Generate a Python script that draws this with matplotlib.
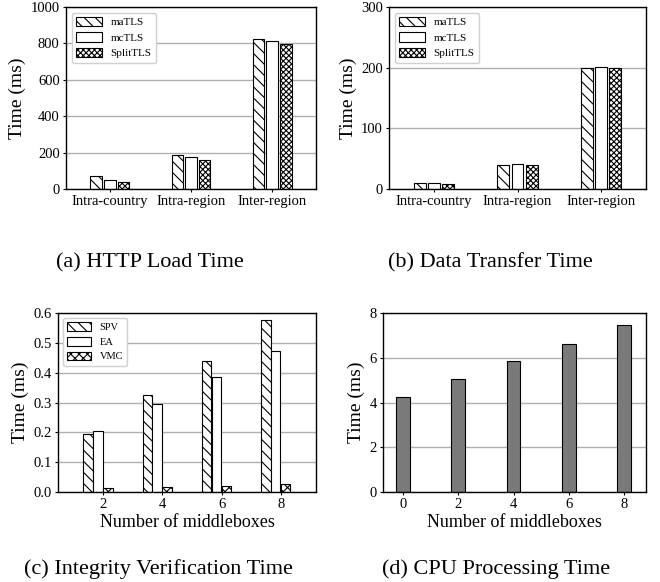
import numpy as np
import matplotlib as mpl
mpl.use('Agg')
import matplotlib.pyplot as plt

plt.rcParams['font.family'] = ['Liberation Serif', 'DejaVu Serif']
plt.rcParams['hatch.linewidth'] = 0.8

# data
regions = ['Intra-country', 'Intra-region', 'Inter-region']
load_matls = [70, 185, 822]
load_mctls = [48, 175, 812]
load_split = [38, 160, 797]

xfer_matls = [10, 40, 200]
xfer_mctls = [10, 41, 201]
xfer_split = [9, 40, 200]

mbox = [2, 4, 6, 8]
spv = [0.195, 0.325, 0.44, 0.575]
ea = [0.205, 0.295, 0.387, 0.472]
vmc = [0.013, 0.016, 0.021, 0.027]

cpu_mbox = [0, 2, 4, 6, 8]
cpu_time = [4.25, 5.05, 5.87, 6.6, 7.45]

fig = plt.figure(figsize=(6.6, 5.82), dpi=100)
W, H = 660.0, 582.0


def add_ax(l, t, r, b):
    return fig.add_axes([l / W, 1 - b / H, (r - l) / W, (b - t) / H])


def style(ax):
    ax.set_axisbelow(True)
    ax.yaxis.grid(True, color='#b0b0b0', lw=1)
    ax.tick_params(labelsize=10.5, length=2.5, width=0.8, pad=2)
    for s in ax.spines.values():
        s.set_linewidth(1.0)
    ax.set_ylabel('Time (ms)', fontsize=14, labelpad=3)


def grouped(ax, a, b, c, ylim, step, labels):
    x = np.arange(len(regions))
    w = 0.14
    d = 0.17
    ax.bar(x - d, a, w, color='white', edgecolor='black', hatch='\\\\\\', lw=0.8, label=labels[0])
    ax.bar(x, b, w, color='white', edgecolor='black', lw=0.8, label=labels[1])
    ax.bar(x + d, c, w, color='white', edgecolor='black', hatch='xxxxxx', lw=0.8, label=labels[2])
    ax.set_xticks(x)
    ax.set_xticklabels(regions)
    ax.set_xlim(-0.54, 2.54)
    ax.set_ylim(0, ylim)
    ax.set_yticks(np.arange(0, ylim + 1, step))
    style(ax)
    ax.legend(loc='upper left', fontsize=8, handlelength=2.3, handleheight=0.9,
              fancybox=True, framealpha=1, edgecolor='#d0d0d0', borderaxespad=0.5,
              labelspacing=0.45)


ax1 = add_ax(66, 7, 316, 189)
grouped(ax1, load_matls, load_mctls, load_split, 1000, 200, ['maTLS', 'mcTLS', 'SplitTLS'])

ax2 = add_ax(389, 7, 646, 189)
grouped(ax2, xfer_matls, xfer_mctls, xfer_split, 300, 100, ['maTLS', 'mcTLS', 'SplitTLS'])

# integrity verification
ax3 = add_ax(58, 313, 316, 492)
m = np.array(mbox)
w = 0.32
ax3.bar(m - 0.5, spv, w, color='white', edgecolor='black', hatch='\\\\\\', lw=0.8, label='SPV')
ax3.bar(m - 0.17, ea, w, color='white', edgecolor='black', lw=0.8, label='EA')
ax3.bar(m + 0.16, vmc, w, color='white', edgecolor='black', hatch='xxxx', lw=0.8, label='VMC')
ax3.set_xticks(mbox)
ax3.set_xlim(0.48, 9.19)
ax3.set_ylim(0, 0.6)
ax3.set_yticks(np.arange(0, 0.61, 0.1))
ax3.yaxis.set_major_formatter(mpl.ticker.FormatStrFormatter('%.1f'))
style(ax3)
ax3.set_xlabel('Number of middleboxes', fontsize=13, labelpad=2)
ax3.legend(loc='upper left', fontsize=7.5, handlelength=2.3, handleheight=0.9,
           fancybox=True, framealpha=1, edgecolor='#d0d0d0', borderaxespad=0.5,
           labelspacing=0.45)

# cpu processing
ax4 = add_ax(383, 313, 646, 492)
ax4.bar(cpu_mbox, cpu_time, 0.5, color='#7a7a7a', edgecolor='black', lw=0.8)
ax4.set_xticks(cpu_mbox)
ax4.set_xlim(-0.73, 8.8)
ax4.set_ylim(0, 8)
ax4.set_yticks([0, 2, 4, 6, 8])
style(ax4)
ax4.set_xlabel('Number of middleboxes', fontsize=13, labelpad=2)

caps = [(150, 263, '(a) HTTP Load Time'), (490, 263, '(b) Data Transfer Time'),
        (158, 569, '(c) Integrity Verification Time'), (496, 569, '(d) CPU Processing Time')]
for cx, cy, t in caps:
    fig.text(cx / W, 1 - cy / H, t, ha='center', va='center', fontsize=16)

fig.savefig('out.png', dpi=100)
